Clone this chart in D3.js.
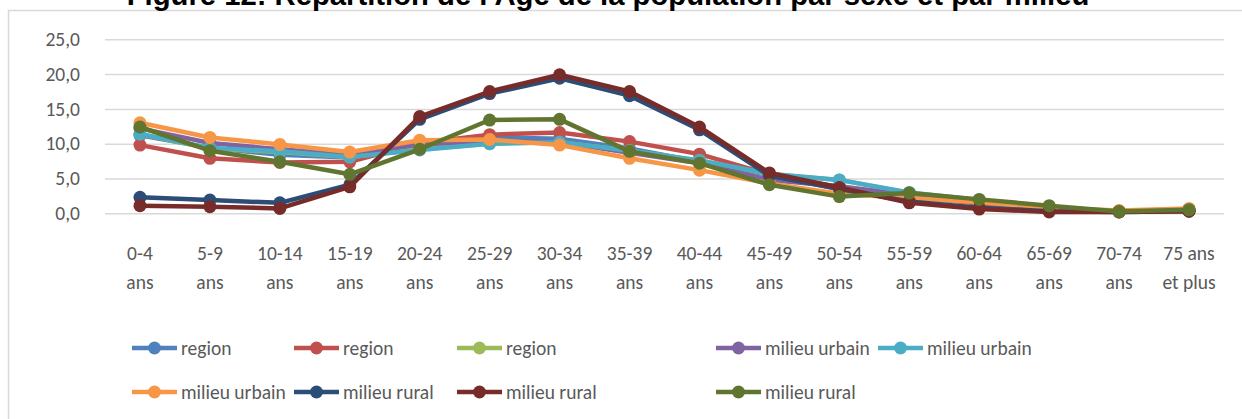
<!DOCTYPE html>
<html>
<head>
<meta charset="utf-8">
<script src="https://cdn.jsdelivr.net/npm/d3@7"></script>
<style>
  html, body { margin: 0; padding: 0; background: #fff; }
  svg { display: block; }
</style>
</head>
<body>
<svg id="chart" width="1242" height="419"></svg>
<script>
// ---------------- DATA ----------------
const title = "Figure 12: Répartition de l'Age de la population par sexe et par milieu";
const categories = ["0-4 ans","5-9 ans","10-14 ans","15-19 ans","20-24 ans","25-29 ans","30-34 ans","35-39 ans","40-44 ans","45-49 ans","50-54 ans","55-59 ans","60-64 ans","65-69 ans","70-74 ans","75 ans et plus"];
const tickLabels = [["0-4","ans"],["5-9","ans"],["10-14","ans"],["15-19","ans"],["20-24","ans"],["25-29","ans"],["30-34","ans"],["35-39","ans"],["40-44","ans"],["45-49","ans"],["50-54","ans"],["55-59","ans"],["60-64","ans"],["65-69","ans"],["70-74","ans"],["75 ans","et plus"]];
const yTicks = [0, 5, 10, 15, 20, 25];
const seriesNames = ["region","region","region","milieu urbain","milieu urbain","milieu urbain","milieu rural","milieu rural","milieu rural"];
const seriesColors = ["#4F81BD","#C0504D","#9BBB59","#8064A2","#4BACC6","#F79646","#2C4D75","#772C2A","#5F7530"];
const regionA   = [11.2, 9.4, 8.4, 8.0, 9.8, 10.9, 10.7, 9.3, 7.4, 5.5, 3.8, 2.6, 1.6, 0.6, 0.3, 0.5];
const regionB   = [9.8, 7.9, 7.3, 7.4, 10.1, 11.3, 11.6, 10.3, 8.5, 5.6, 3.5, 2.4, 1.4, 0.6, 0.3, 0.5];
const regionC   = [11.4, 9.3, 8.8, 8.1, 9.2, 10.0, 10.2, 9.0, 7.6, 5.6, 4.8, 2.9, 1.8, 0.7, 0.3, 0.5];
const urbainA   = [12.2, 10.1, 9.2, 8.4, 9.9, 10.4, 10.2, 8.7, 7.2, 4.8, 3.9, 2.6, 1.7, 0.7, 0.3, 0.5];
const urbainB   = [11.4, 9.4, 8.9, 8.1, 9.1, 10.0, 10.2, 9.0, 7.6, 5.7, 4.8, 3.0, 1.9, 0.8, 0.3, 0.5];
const urbainC   = [13.0, 10.9, 9.9, 8.8, 10.5, 10.6, 9.8, 7.9, 6.2, 4.3, 2.8, 2.2, 1.6, 0.8, 0.4, 0.7];
const ruralA    = [2.3, 1.9, 1.5, 4.1, 13.5, 17.2, 19.4, 16.9, 12.0, 5.4, 3.5, 1.7, 0.8, 0.3, 0.2, 0.3];
const ruralB    = [1.1, 0.95, 0.7, 3.8, 13.9, 17.5, 19.9, 17.5, 12.4, 5.8, 3.7, 1.5, 0.6, 0.2, 0.2, 0.3];
const ruralC    = [12.4, 9.0, 7.4, 5.6, 9.2, 13.4, 13.5, 8.9, 7.2, 4.1, 2.4, 2.9, 2.0, 1.1, 0.25, 0.5];
const seriesValues = [regionA, regionB, regionC, urbainA, urbainB, urbainC, ruralA, ruralB, ruralC];

// ---------------- LAYOUT ----------------
const svg = d3.select("#chart");
const font = "Carlito, Lato, sans-serif";
const fs = 19.5;
const textColor = "#595959";
const plot = { left: 105, right: 1224, top: 39.3, bottom: 213.3 };

// chart frame
svg.append("rect")
  .attr("x", 8.5).attr("y", 10.5).attr("width", 1240).attr("height", 420)
  .attr("fill", "#fff").attr("stroke", "#D9D9D9").attr("stroke-width", 1.5);

// title (partially cut at top, as in the reference)
const t = svg.append("text")
  .attr("x", 608).attr("y", 4.5)
  .attr("text-anchor", "middle")
  .attr("font-family", "'Liberation Sans', Arial, sans-serif")
  .attr("font-weight", "bold")
  .attr("font-size", 24)
  .attr("fill", "#000")
  .text(title);
const tw = t.node().getComputedTextLength();
t.attr("font-size", 24 * 963 / tw);

const x = d3.scaleBand().domain(categories).range([plot.left, plot.right]).padding(0);
const y = d3.scaleLinear().domain([0, 25]).range([plot.bottom, plot.top]);
const cx = c => x(c) + x.bandwidth() / 2;

// gridlines + y axis
const yAxis = d3.axisLeft(y).tickValues(yTicks)
  .tickSize(-(plot.right - plot.left))
  .tickFormat(d => d3.format(".1f")(d).replace(".", ","));
const gy = svg.append("g").attr("transform", `translate(${plot.left},0)`).call(yAxis);
gy.select(".domain").remove();
gy.selectAll(".tick line").attr("stroke", "#D9D9D9").attr("stroke-width", 1.5);
gy.selectAll(".tick text")
  .attr("x", -25)
  .attr("font-family", font).attr("font-size", fs).attr("fill", textColor);

// x axis labels
const xAxis = d3.axisBottom(x).tickSize(0).tickFormat("");
const gx = svg.append("g").attr("transform", `translate(0,${plot.bottom})`).call(xAxis);
gx.select(".domain").remove();
gx.selectAll(".tick").each(function(d, i) {
  const tx = d3.select(this).append("text")
    .attr("text-anchor", "middle")
    .attr("font-family", font).attr("font-size", fs).attr("fill", textColor);
  tickLabels[i].forEach((line, k) => {
    tx.append("tspan").attr("x", 0).attr("y", 47 + k * 28.6).text(line);
  });
});

// series
const line = d3.line().x((d, i) => cx(categories[i])).y(d => y(d));
seriesValues.forEach((vals, s) => {
  const g = svg.append("g");
  g.append("path").datum(vals)
    .attr("d", line)
    .attr("fill", "none")
    .attr("stroke", seriesColors[s])
    .attr("stroke-width", 4.5)
    .attr("stroke-linejoin", "round")
    .attr("stroke-linecap", "round");
  g.selectAll("circle").data(vals).join("circle")
    .attr("cx", (d, i) => cx(categories[i]))
    .attr("cy", d => y(d))
    .attr("r", 6.5)
    .attr("fill", seriesColors[s]);
});

// legend
const legendCols = [132, 294, 457, 716, 878];
const legendRows = [348, 392];
seriesNames.forEach((name, s) => {
  const row = Math.floor(s / 5), col = s % 5;
  const lx = legendCols[col], ly = legendRows[row];
  const g = svg.append("g").attr("transform", `translate(${lx},${ly})`);
  g.append("line").attr("x1", 0).attr("x2", 45).attr("y1", 0).attr("y2", 0)
    .attr("stroke", seriesColors[s]).attr("stroke-width", 4.5);
  g.append("circle").attr("cx", 22.5).attr("cy", 0).attr("r", 6.5).attr("fill", seriesColors[s]);
  g.append("text").attr("x", 49).attr("y", 0).attr("dy", "0.35em")
    .attr("font-family", font).attr("font-size", fs).attr("fill", textColor)
    .text(name);
});
</script>
</body>
</html>
